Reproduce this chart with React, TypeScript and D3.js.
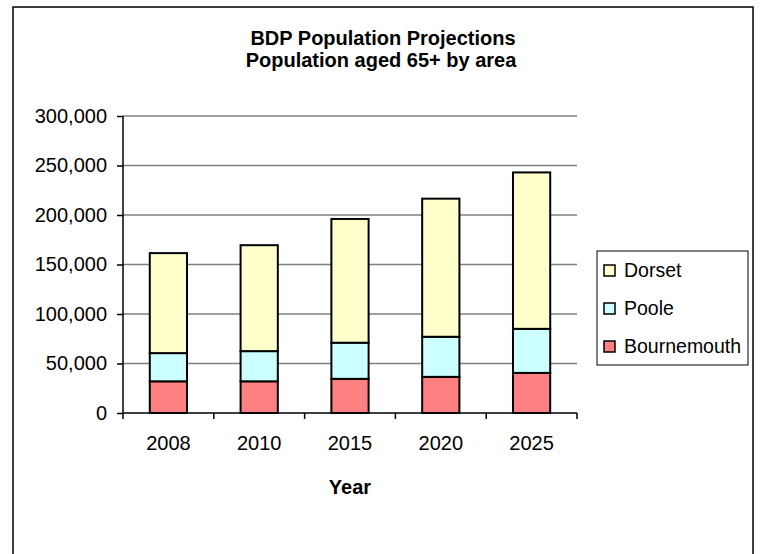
import React, { useEffect, useRef } from 'react';
import * as d3 from 'd3';

const years = ['2008', '2010', '2015', '2020', '2025'];
const bournemouth = [32000, 32000, 34500, 36500, 40500];
const poole = [28500, 30500, 36500, 40500, 44500];
const dorset = [101000, 107000, 125000, 139500, 158000];
const seriesNames = ['Bournemouth', 'Poole', 'Dorset'];
const seriesColors = ['#FF8080', '#CCFFFF', '#FFFFCC'];
const yTicks = [0, 50000, 100000, 150000, 200000, 250000, 300000];

const FONT = '"Liberation Sans", Arial, sans-serif';

const App: React.FC = () => {
  const svgRef = useRef<SVGSVGElement>(null);

  useEffect(() => {
    if (!svgRef.current) return;
    const svg = d3.select(svgRef.current);
    svg.selectAll('*').remove();

    const width = 761;
    const height = 554;
    const margin = { top: 116, right: 184, bottom: 141, left: 123 };
    const innerWidth = width - margin.left - margin.right;
    const innerHeight = height - margin.top - margin.bottom;

    // outer chart border
    svg.append('rect')
      .attr('x', 13)
      .attr('y', 7)
      .attr('width', 740)
      .attr('height', 560)
      .attr('fill', '#fff')
      .attr('stroke', '#000')
      .attr('stroke-width', 1.5);

    const rows = years.map((year, i) => ({
      year,
      Bournemouth: bournemouth[i],
      Poole: poole[i],
      Dorset: dorset[i],
    }));
    const stacked = d3.stack<any>().keys(seriesNames)(rows);

    const xScale = d3.scaleBand()
      .domain(years)
      .range([0, innerWidth])
      .paddingInner(0.59)
      .paddingOuter(0.295);

    const yScale = d3.scaleLinear()
      .domain([0, 300000])
      .range([innerHeight, 0]);

    const g = svg.append('g')
      .attr('transform', `translate(${margin.left},${margin.top})`);

    // gridlines
    g.selectAll('.grid')
      .data(yTicks.filter(t => t > 0))
      .enter()
      .append('line')
      .attr('x1', 0)
      .attr('x2', innerWidth)
      .attr('y1', d => yScale(d))
      .attr('y2', d => yScale(d))
      .attr('stroke', '#808080')
      .attr('stroke-width', 1.5);

    // bars
    stacked.forEach((layer, si) => {
      g.append('g')
        .selectAll('rect')
        .data(layer)
        .enter()
        .append('rect')
        .attr('x', (d: any) => xScale(d.data.year)!)
        .attr('y', (d: any) => yScale(d[1]))
        .attr('width', xScale.bandwidth())
        .attr('height', (d: any) => yScale(d[0]) - yScale(d[1]))
        .attr('fill', seriesColors[si])
        .attr('stroke', '#000')
        .attr('stroke-width', 2);
    });

    // y axis
    g.append('g')
      .call(d3.axisLeft(yScale).tickValues(yTicks).tickSize(6).tickPadding(10)
        .tickFormat((d: any) => d3.format(',')(d)))
      .call((a: any) => a.select('.domain').attr('stroke', '#000').attr('stroke-width', 1.5).attr('d', `M0,${innerHeight}V0`))
      .call((a: any) => a.selectAll('line').attr('stroke', '#000').attr('stroke-width', 1.5))
      .call((a: any) => a.selectAll('text').attr('fill', '#000').attr('font-family', FONT).attr('font-size', '20px'));

    // x axis with ticks at band boundaries
    const xAxis = g.append('g').attr('transform', `translate(0,${innerHeight})`);
    xAxis.append('line')
      .attr('x1', 0).attr('x2', innerWidth)
      .attr('stroke', '#000').attr('stroke-width', 1.5);
    const step = xScale.step();
    d3.range(years.length + 1).forEach(i => {
      xAxis.append('line')
        .attr('x1', i * step).attr('x2', i * step)
        .attr('y1', 0).attr('y2', 6)
        .attr('stroke', '#000').attr('stroke-width', 1.5);
    });
    xAxis.selectAll('.lbl')
      .data(years)
      .enter()
      .append('text')
      .attr('x', d => xScale(d)! + xScale.bandwidth() / 2)
      .attr('y', 37)
      .attr('text-anchor', 'middle')
      .attr('font-family', FONT)
      .attr('font-size', '20px')
      .attr('fill', '#000')
      .text(d => d);

    g.append('text')
      .attr('x', innerWidth / 2)
      .attr('y', innerHeight + 81)
      .attr('text-anchor', 'middle')
      .attr('font-family', FONT)
      .attr('font-size', '20px')
      .attr('font-weight', 'bold')
      .attr('fill', '#000')
      .text('Year');

    // title
    svg.append('text')
      .attr('x', 383)
      .attr('y', 45)
      .attr('text-anchor', 'middle')
      .attr('font-family', FONT)
      .attr('font-size', '20px')
      .attr('font-weight', 'bold')
      .attr('fill', '#000')
      .text('BDP Population Projections');
    svg.append('text')
      .attr('x', 381)
      .attr('y', 67)
      .attr('text-anchor', 'middle')
      .attr('font-family', FONT)
      .attr('font-size', '20px')
      .attr('font-weight', 'bold')
      .attr('fill', '#000')
      .text('Population aged 65+ by area');

    // legend
    const legend = svg.append('g').attr('transform', 'translate(597,251)');
    legend.append('rect')
      .attr('width', 151)
      .attr('height', 114)
      .attr('fill', '#fff')
      .attr('stroke', '#000')
      .attr('stroke-width', 1);
    const legendOrder = [2, 1, 0];
    legendOrder.forEach((si, i) => {
      const row = legend.append('g').attr('transform', `translate(0,${19 + i * 38})`);
      row.append('rect')
        .attr('x', 7)
        .attr('y', -5)
        .attr('width', 11)
        .attr('height', 11)
        .attr('fill', seriesColors[si])
        .attr('stroke', '#000')
        .attr('stroke-width', 1.5);
      row.append('text')
        .attr('x', 27)
        .attr('y', 7)
        .attr('font-family', FONT)
        .attr('font-size', '19.5px')
        .attr('fill', '#000')
        .text(seriesNames[si]);
    });
  }, []);

  return (
    <svg
      ref={svgRef}
      width={761}
      height={554}
      style={{ position: 'absolute', left: 0, top: 0, display: 'block' }}
    />
  );
};

export default App;
